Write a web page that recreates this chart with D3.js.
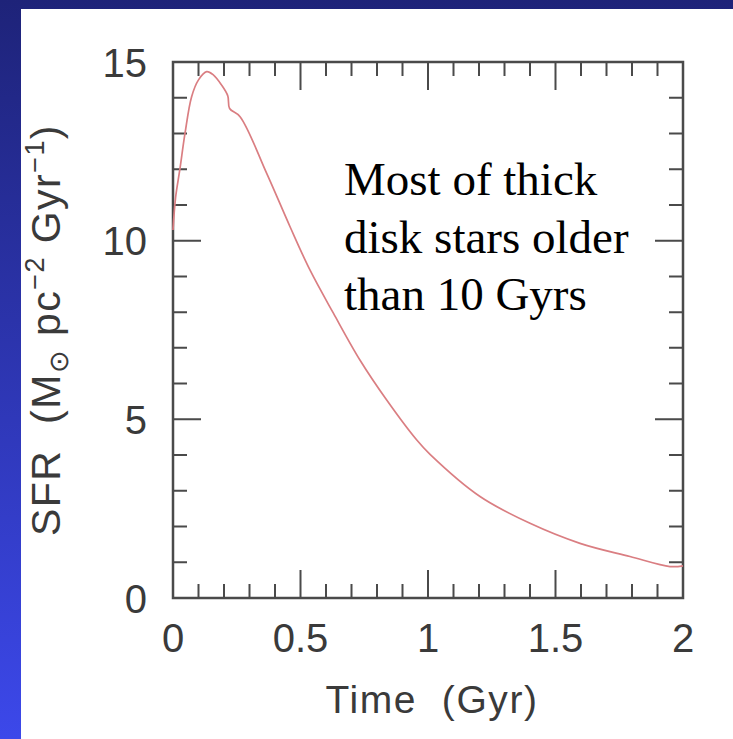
<!DOCTYPE html>
<html>
<head>
<meta charset="utf-8">
<script src="https://cdn.jsdelivr.net/npm/d3@7"></script>
<style>
  html, body { margin: 0; padding: 0; }
  body { width: 733px; height: 739px; overflow: hidden; }
</style>
</head>
<body>
<div id="chart"></div>
<script>
// star formation rate of the thick disk
var time = [0, 0.01, 0.027, 0.047, 0.073, 0.1, 0.132, 0.158, 0.19, 0.215, 0.222, 0.263, 0.367,
            0.459, 0.537, 0.629, 0.733, 0.838, 0.956, 1.008, 1.204, 1.4, 1.596, 1.792, 1.949, 2];
var sfr  = [10.3, 11.2, 12.0, 13.0, 14.03, 14.5, 14.73, 14.64, 14.36, 14.05, 13.7, 13.47, 11.89,
            10.39, 9.18, 7.97, 6.66, 5.54, 4.42, 4.02, 2.84, 2.09, 1.53, 1.16, 0.88, 0.9];
var xTicks = [0, 0.5, 1, 1.5, 2];
var yTicks = [0, 5, 10, 15];
var note = ['Most of thick', 'disk stars older', 'than 10 Gyrs'];

var W = 733, H = 739;
var frame = {left: 173, top: 62, right: 683, bottom: 598};

var svg = d3.select('#chart').append('svg')
    .attr('width', W)
    .attr('height', H);

// slide background
var grad = svg.append('defs').append('linearGradient')
    .attr('id', 'slide')
    .attr('x1', 0).attr('y1', 0).attr('x2', 0).attr('y2', 1);
grad.append('stop').attr('offset', '0%').attr('stop-color', '#1e2379');
grad.append('stop').attr('offset', '100%').attr('stop-color', '#3c48ea');
svg.append('rect').attr('width', W).attr('height', H).attr('fill', 'url(#slide)');
svg.append('rect').attr('x', 21).attr('y', 9).attr('width', W - 21).attr('height', H - 9).attr('fill', '#ffffff');

var x = d3.scaleLinear().domain([0, 2]).range([frame.left, frame.right]);
var y = d3.scaleLinear().domain([0, 15]).range([frame.bottom, frame.top]);

var axisColor = '#4a4a4a';
var g = svg.append('g');

// ticks on all four sides, pointing inwards
var xMinor = d3.range(0, 21).map(function(i){ return i / 10; });
var yMinor = d3.range(0, 16);

function isMajor(v, step){ return Math.abs(v / step - Math.round(v / step)) < 1e-6; }

g.selectAll('.xtick').data(xMinor).enter().append('path')
    .attr('d', function(d){
        var len = isMajor(d, 0.5) ? 28 : 14;
        var px = x(d);
        return 'M' + px + ',' + frame.bottom + 'v' + (-len) + 'M' + px + ',' + frame.top + 'v' + len;
    })
    .attr('stroke', axisColor).attr('stroke-width', 2);

g.selectAll('.ytick').data(yMinor).enter().append('path')
    .attr('d', function(d){
        var len = isMajor(d, 5) ? 28 : 14;
        var py = y(d);
        return 'M' + frame.left + ',' + py + 'h' + len + 'M' + frame.right + ',' + py + 'h' + (-len);
    })
    .attr('stroke', axisColor).attr('stroke-width', 2);

g.append('rect')
    .attr('x', frame.left).attr('y', frame.top)
    .attr('width', frame.right - frame.left).attr('height', frame.bottom - frame.top)
    .attr('fill', 'none').attr('stroke', axisColor).attr('stroke-width', 2.5);

// tick labels
var labelFont = '"Liberation Sans", Arial, sans-serif';
g.selectAll('.xlab').data(xTicks).enter().append('text')
    .attr('x', function(d){ return x(d); })
    .attr('y', 652)
    .attr('text-anchor', 'middle')
    .attr('font-family', labelFont).attr('font-size', 40).attr('fill', '#3a3a3a')
    .text(function(d){ return d; });

g.selectAll('.ylab').data(yTicks).enter().append('text')
    .attr('x', 147)
    .attr('y', function(d){ return y(d) + 14.5; })
    .attr('text-anchor', 'end')
    .attr('font-family', labelFont).attr('font-size', 40).attr('fill', '#3a3a3a')
    .text(function(d){ return d; });

// stretch a title to the width it has in the figure
function fitWidth(sel, target){
    var node = sel.node();
    var n = node.textContent.length;
    var len = node.getComputedTextLength();
    sel.attr('letter-spacing', ((target - len) / n) + 'px');
}

// axis titles
var xt = svg.append('text')
    .attr('x', 432).attr('y', 713)
    .attr('text-anchor', 'middle')
    .attr('font-family', labelFont).attr('font-size', 39).attr('fill', '#3a3a3a')
    .attr('xml:space', 'preserve')
    .text('Time  (Gyr)');
fitWidth(xt, 213);

var yt = svg.append('text')
    .attr('transform', 'translate(60,330) rotate(-90)')
    .attr('text-anchor', 'middle')
    .attr('font-family', labelFont).attr('font-size', 41).attr('fill', '#3a3a3a')
    .attr('xml:space', 'preserve');
yt.append('tspan').text('SFR  (M');
yt.append('tspan').attr('font-size', 27).attr('dy', 8).text('\u2299');
yt.append('tspan').attr('dy', -8).text(' pc');
yt.append('tspan').attr('font-size', 27).attr('dy', -16).text('\u22122');
yt.append('tspan').attr('dy', 16).text(' Gyr');
yt.append('tspan').attr('font-size', 27).attr('dy', -16).text('\u22121');
yt.append('tspan').attr('dy', 16).text(')');
fitWidth(yt, 412);

// the curve
var pts = time.map(function(t, i){ return [t, sfr[i]]; });
var line = d3.line()
    .x(function(d){ return x(d[0]); })
    .y(function(d){ return y(d[1]); })
    .curve(d3.curveCatmullRom.alpha(0.5));

svg.append('path')
    .datum(pts)
    .attr('d', line)
    .attr('fill', 'none')
    .attr('stroke', '#da7e82')
    .attr('stroke-width', 1.7);

// annotation
svg.append('g').selectAll('text').data(note).enter().append('text')
    .attr('x', 344)
    .attr('y', function(d, i){ return 195 + i * 57.5; })
    .attr('font-family', '"Liberation Serif", "Times New Roman", serif')
    .attr('font-size', 47)
    .attr('fill', '#000')
    .text(function(d){ return d; });
</script>
</body>
</html>
